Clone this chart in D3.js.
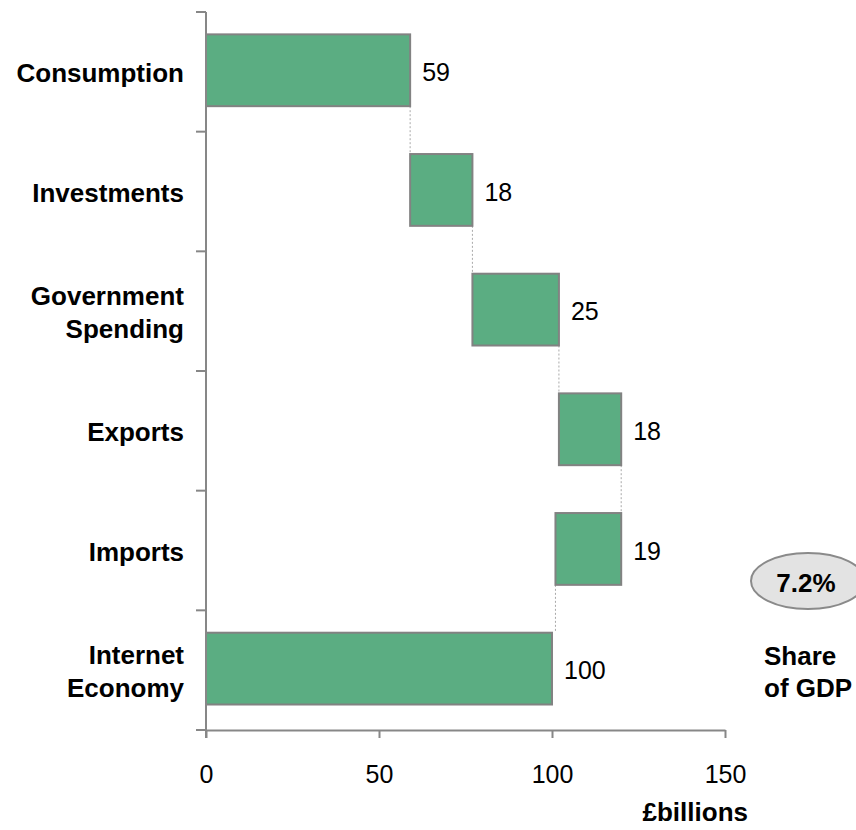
<!DOCTYPE html>
<html>
<head>
<meta charset="utf-8">
<script src="https://cdn.jsdelivr.net/npm/d3@7"></script>
<style>
  body { margin: 0; background: #fff; }
  text { font-family: "Liberation Sans", Arial, Helvetica, sans-serif; }
</style>
</head>
<body>
<svg id="chart" width="856" height="830"></svg>
<script>
// Contributions to the UK internet economy (£ billions), shown as a waterfall
const categories = ["Consumption", "Investments", "Government Spending", "Exports", "Imports", "Internet Economy"];
const changes = [59, 18, 25, 18, -19];   // step bars, imports subtract
const total = 100;                        // final total bar
const xTicks = [0, 50, 100, 150];
const unitLabel = "£billions";
const shareValue = "7.2%";
const shareLabel = ["Share", "of GDP"];

// Build bar extents: running steps, then the total from zero
let running = 0;
const bars = changes.map((v, i) => {
  const start = running;
  running += v;
  return { cat: categories[i], start, end: running, value: Math.abs(v) };
});
bars.push({ cat: categories[categories.length - 1], start: 0, end: total, value: total });

const svg = d3.select("#chart");
const axisColor = "#878787";

const x = d3.scaleLinear().domain([0, 150]).range([206, 725]);
const y = d3.scaleBand().domain(categories).range([12, 730]).padding(0);
const bw = y.bandwidth();
const barTop = c => y(c) + bw * 0.187;
const barH = bw * 0.6;

// Dotted connectors between consecutive bars
const conn = svg.append("g");
for (let i = 0; i < bars.length - 1; i++) {
  const xPos = x(bars[i].end);
  conn.append("line")
    .attr("x1", xPos).attr("x2", xPos)
    .attr("y1", barTop(bars[i].cat) + barH)
    .attr("y2", barTop(bars[i + 1].cat))
    .attr("stroke", "#a9a9a9")
    .attr("stroke-width", 1)
    .attr("stroke-dasharray", "2,2");
}

// Bars
svg.append("g").selectAll("rect").data(bars).join("rect")
  .attr("x", d => x(Math.min(d.start, d.end)))
  .attr("width", d => Math.abs(x(d.end) - x(d.start)))
  .attr("y", d => barTop(d.cat))
  .attr("height", barH)
  .attr("fill", "#5bad82")
  .attr("stroke", "#828282")
  .attr("stroke-width", 2);

// Value labels to the right of each bar
svg.append("g").selectAll("text").data(bars).join("text")
  .attr("x", d => x(Math.max(d.start, d.end)) + 12)
  .attr("y", d => y(d.cat) + bw / 2 + 9)
  .attr("font-size", 25)
  .attr("fill", "#000")
  .text(d => d.value);

// X axis
const xAxis = svg.append("g")
  .attr("transform", "translate(0,730)")
  .call(d3.axisBottom(x).tickValues(xTicks).tickSize(8).tickSizeOuter(0).tickPadding(27));
xAxis.select(".domain").attr("stroke", axisColor).attr("stroke-width", 2);
xAxis.selectAll(".tick line").attr("stroke", axisColor).attr("stroke-width", 2);
xAxis.selectAll(".tick text")
  .attr("font-size", 25)
  .attr("font-family", "Liberation Sans, Arial, sans-serif")
  .attr("fill", "#000");

// Y axis: vertical line with ticks between categories
const yAxis = svg.append("g");
yAxis.append("line")
  .attr("x1", x(0)).attr("x2", x(0))
  .attr("y1", y.range()[0]).attr("y2", y.range()[1] + 8)
  .attr("stroke", axisColor).attr("stroke-width", 2);
const boundaries = categories.map(c => y(c)).concat([y.range()[1]]);
yAxis.selectAll("line.tick").data(boundaries).join("line")
  .attr("class", "tick")
  .attr("x1", x(0) - 10).attr("x2", x(0))
  .attr("y1", d => d).attr("y2", d => d)
  .attr("stroke", axisColor).attr("stroke-width", 2);

// Category labels (multi-word names wrap onto two lines)
const lineGap = 33;
const catLabels = svg.append("g")
  .attr("font-size", 26).attr("font-weight", "bold").attr("text-anchor", "end");
categories.forEach(c => {
  const words = c.split(" ");
  const cy = y(c) + bw / 2 + 10.5;
  words.forEach((w, k) => {
    catLabels.append("text")
      .attr("x", 184)
      .attr("y", cy + (k - (words.length - 1) / 2) * lineGap)
      .attr("fill", "#000")
      .text(w);
  });
});

// Axis unit
svg.append("text")
  .attr("x", 748).attr("y", 821)
  .attr("text-anchor", "end")
  .attr("font-size", 26).attr("font-weight", "bold")
  .text(unitLabel);

// Share of GDP callout
svg.append("ellipse")
  .attr("cx", 808).attr("cy", 581).attr("rx", 57).attr("ry", 28)
  .attr("fill", "#e3e3e3").attr("stroke", "#8a8a8a").attr("stroke-width", 2);
svg.append("text")
  .attr("x", 806).attr("y", 591.5)
  .attr("text-anchor", "middle")
  .attr("font-size", 26).attr("font-weight", "bold")
  .text(shareValue);
const shareG = svg.append("g").attr("font-size", 26).attr("font-weight", "bold");
shareLabel.forEach((t, k) => {
  shareG.append("text").attr("x", 764).attr("y", 665 + k * 32).text(t);
});
</script>
</body>
</html>
